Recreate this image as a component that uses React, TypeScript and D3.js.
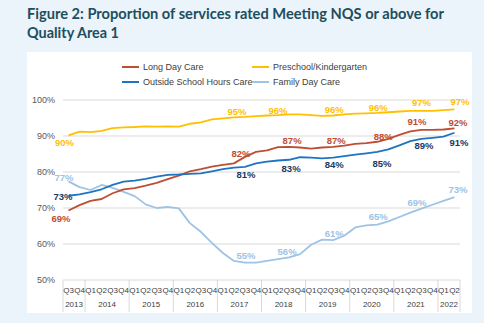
import React from "react";
import * as d3 from "d3";

const quarters = ["Q3","Q4","Q1","Q2","Q3","Q4","Q1","Q2","Q3","Q4","Q1","Q2","Q3","Q4","Q1","Q2","Q3","Q4","Q1","Q2","Q3","Q4","Q1","Q2","Q3","Q4","Q1","Q2","Q3","Q4","Q1","Q2","Q3","Q4","Q1","Q2"];
const years = ["2013","2014","2015","2016","2017","2018","2019","2020","2021","2022"];
const yearQuarterCounts = [2,4,4,4,4,4,4,4,4,2];
const yTicks = [50,60,70,80,90,100];

const longDayCare = [69.3,70.8,72,72.5,74.1,75.2,75.5,76.2,77,78,79,80.2,80.8,81.5,82,82.4,84.2,85.6,86,86.9,87,86.8,86.5,86.8,87,87.3,87.8,88,88.4,89.2,90.3,91.3,91.7,91.7,91.8,92.1];
const preschool = [90.2,91.2,91.1,91.4,92.2,92.4,92.5,92.7,92.6,92.7,92.6,93.4,93.8,94.6,94.9,95.2,95.3,95.5,95.7,95.8,96,96,95.8,95.6,95.7,96,96.2,96.3,96.4,96.6,96.8,97,97,97,97.2,97.4];
const oshc = [73.4,73.8,74.4,75.2,76.4,77.3,77.6,78.1,78.7,79.2,79.3,79.5,79.6,80.2,80.8,81.2,81.4,82.4,82.9,83.2,83.4,84.1,84,83.8,84,84.4,84.8,85.2,85.6,86.3,87.4,88.6,89.2,89.5,89.8,90.9];
const familyDayCare = [77.4,75.8,75,76.4,75.6,74.5,73.3,71,70,70.3,69.9,65.8,63.4,60.3,57.5,55.3,54.8,54.8,55.3,55.8,56.3,57.2,59.8,61.2,61.1,62.3,64.6,65.2,65.4,66.3,67.5,68.7,69.8,70.9,72,73];

const seriesNames = ["Long Day Care","Preschool/Kindergarten","Outside School Hours Care","Family Day Care"];
const seriesValues = [longDayCare, preschool, oshc, familyDayCare];
const seriesColors = ["#BF4D32","#FFC000","#1F74C2","#9DC3E6"];
const labelColors = ["#BF4D32","#FFC000","#203864","#9DC3E6"];

// labelled points: [series, index, dx, dy] (offsets of label centre from point)
const labelPoints: [number, number, number, number][] = [
  [1,0,-4,7.7],[1,15,3,-5.3],[1,19,0,-5],[1,24,1,-5.5],[1,28,1,-5],[1,32,0,-8],[1,35,5.5,-7.4],
  [0,0,-7.5,7.5],[0,15,7,-10],[0,20,3,-6],[0,24,3,-6],[0,28,6,-5],[0,31,6.6,-10],[0,35,3.5,-6.4],
  [2,0,-5.5,1.2],[2,16,1,7.5],[2,20,2,9],[2,24,1,6.4],[2,27,15.7,10],[2,32,2.6,7],[2,35,4.5,10],
  [3,0,-4.5,-3.4],[3,16,1,-7.7],[3,20,-2,-6.3],[3,24,1,-7],[3,28,1,-7.6],[3,31,6.6,-9.7],[3,35,3.5,-8.2],
];

export default function App() {
  const W = 484, H = 323;
  const left = 63, right = 460, top = 100, bottom = 280;
  const x = d3.scaleBand<number>().domain(d3.range(quarters.length)).range([left, right]).padding(0);
  const bw = x.bandwidth();
  const cx = (i: number) => (x(i) as number) + bw / 2;
  const y = d3.scaleLinear().domain([50, 100]).range([bottom, top]);
  const line = d3.line<number>().x((_, i) => cx(i)).y((v) => y(v));

  const yearBounds: number[] = [0];
  yearQuarterCounts.forEach((c) => yearBounds.push(yearBounds[yearBounds.length - 1] + c));
  const boundX = (k: number) => (k >= quarters.length ? right : (x(k) as number));

  const font = "'Liberation Sans', Arial, sans-serif";
  const order = [3, 0, 2, 1];

  const legend = [
    { s: 0, lx: 122, ly: 67 },
    { s: 1, lx: 252, ly: 67 },
    { s: 2, lx: 122, ly: 82 },
    { s: 3, lx: 252, ly: 82 },
  ];

  return (
    <svg width={W} height={H} style={{ position: "absolute", left: 0, top: 0 }} fontFamily={font}>
      <rect x={0} y={0} width={W} height={H} fill="#EBF3FB" />
      <text x={27} y={18.5} fontFamily="Lato, 'Open Sans', sans-serif" fontWeight="bold" fontSize={15.5} fill="#1E4E5C" textLength={417} lengthAdjust="spacingAndGlyphs">
        Figure 2: Proportion  of services rated Meeting NQS or above for
      </text>
      <text x={27} y={37.5} fontFamily="Lato, 'Open Sans', sans-serif" fontWeight="bold" fontSize={15.5} fill="#1E4E5C" textLength={92} lengthAdjust="spacingAndGlyphs">
        Quality Area 1
      </text>
      <rect x={27} y={52} width={445} height={261} fill="#FFFFFF" />

      {yTicks.map((t) => (
        <g key={t}>
          <line x1={left} x2={right} y1={y(t)} y2={y(t)} stroke="#D9D9D9" strokeWidth={1} />
          <text x={55} y={y(t) + 3} textAnchor="end" fontSize={9} fill="#595959">{t}%</text>
        </g>
      ))}

      {yearBounds.map((k, j) => (
        <line key={"b" + j} x1={boundX(k)} x2={boundX(k)} y1={bottom} y2={312} stroke="#D9D9D9" strokeWidth={1} />
      ))}
      {quarters.map((q, i) => (
        <text key={"q" + i} x={cx(i)} y={293} textAnchor="middle" fontSize={8} fill="#404040">{q}</text>
      ))}
      {years.map((yr, j) => (
        <text key={"y" + j} x={(boundX(yearBounds[j]) + boundX(yearBounds[j + 1])) / 2} y={307} textAnchor="middle" fontSize={8} fill="#404040">{yr}</text>
      ))}

      {order.map((s) => (
        <path key={"l" + s} d={line(seriesValues[s]) as string} fill="none" stroke={seriesColors[s]} strokeWidth={1.8} strokeLinejoin="round" />
      ))}

      {labelPoints.map(([s, i, dx, dy], k) => (
        <text key={"lab" + k} x={cx(i) + dx} y={y(seriesValues[s][i]) + dy + 3.5} textAnchor="middle" fontSize={9.5} fontWeight="bold" fill={labelColors[s]}>
          {Math.round(seriesValues[s][i])}%
        </text>
      ))}

      {legend.map((l) => (
        <g key={"lg" + l.s}>
          <line x1={l.lx} x2={l.lx + 17} y1={l.ly} y2={l.ly} stroke={seriesColors[l.s]} strokeWidth={2} />
          <text x={l.lx + 21} y={l.ly + 3} fontSize={9} fill="#404040">{seriesNames[l.s]}</text>
        </g>
      ))}
    </svg>
  );
}
